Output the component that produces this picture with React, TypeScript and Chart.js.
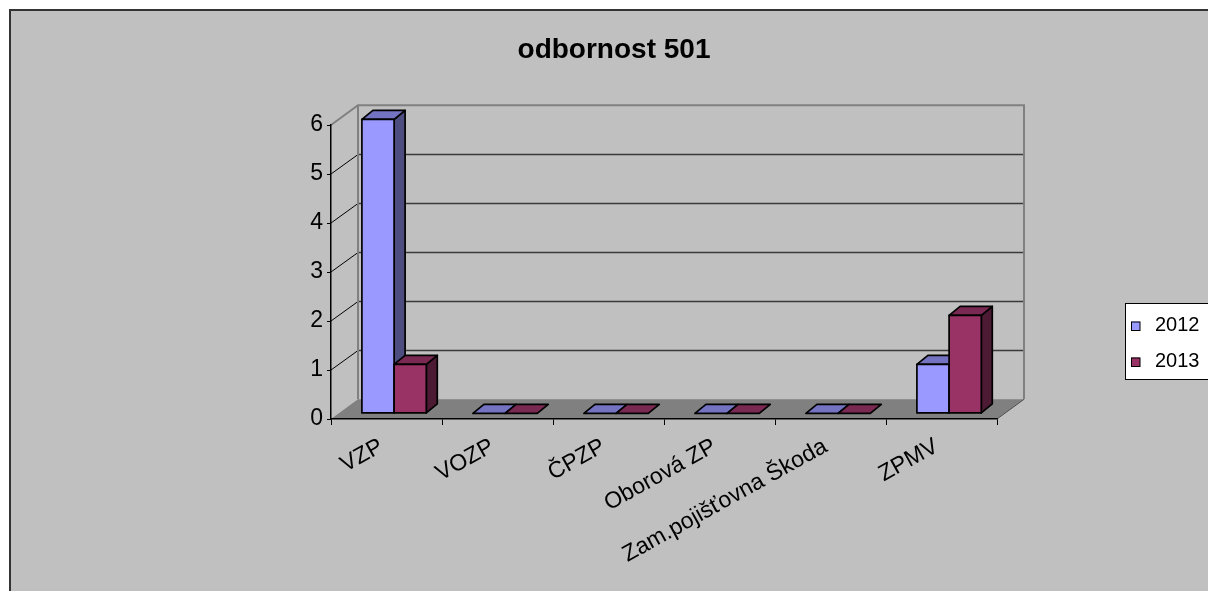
import React, { useEffect, useRef } from "react";
import { Chart, registerables } from "chart.js";

Chart.register(...registerables);

// ---- data ----
const chartTitle = "odbornost 501";
const categories = ["VZP", "VOZP", "ČPZP", "Oborová ZP", "Zam.pojišťovna Škoda", "ZPMV"];
const seriesLabels = ["2012", "2013"];
const values2012 = [6, 0, 0, 0, 0, 1];
const values2013 = [1, 0, 0, 0, 0, 2];
const yMin = 0;
const yMax = 6;
const yStep = 1;

// ---- styles ----
const FONT = "'Liberation Sans', Arial, Helvetica, sans-serif";
const frontColors = ["#9999FF", "#993366"];
const topColors = ["#7373C2", "#7A2952"];
const sideColors = ["#4D4D80", "#4D1A33"];
const WALL_DX = 27;
const WALL_DY = -19.7;
const BAR_DX = 7.6;
const BAR_DY = -5.6;
const DEP_DX = 11;
const DEP_DY = -9;

const excel3d = {
  id: "excel3d",
  beforeDraw(chart: any) {
    const { ctx, chartArea: a, scales } = chart;
    const ys = scales.y;
    const W = chart.width;
    const H = chart.height;
    ctx.save();
    // page + chart box
    ctx.fillStyle = "#FFFFFF";
    ctx.fillRect(0, 0, W, H);
    ctx.fillStyle = "#C0C0C0";
    ctx.fillRect(9, 9, W + 10, H + 10);
    ctx.fillStyle = "#333333";
    ctx.fillRect(9, 9, W, 2);
    ctx.fillRect(9, 9, 2, H);

    const L = a.left, R = a.right, T = a.top, B = a.bottom;

    // floor
    ctx.beginPath();
    ctx.moveTo(L, B);
    ctx.lineTo(R, B);
    ctx.lineTo(R + WALL_DX, B + WALL_DY);
    ctx.lineTo(L + WALL_DX, B + WALL_DY);
    ctx.closePath();
    ctx.fillStyle = "#808080";
    ctx.fill();
    ctx.strokeStyle = "#505050";
    ctx.lineWidth = 1;
    ctx.beginPath();
    ctx.moveTo(R, B);
    ctx.lineTo(R + WALL_DX, B + WALL_DY);
    ctx.stroke();

    // gridlines on side and back walls
    ys.ticks.forEach((t: any) => {
      const v = t.value;
      if (v === yMin || v === yMax) return;
      const yy = ys.getPixelForValue(v);
      const yb = Math.round(yy + WALL_DY) + 0.5;
      ctx.strokeStyle = "#000000";
      ctx.lineWidth = 1;
      ctx.beginPath();
      ctx.moveTo(L, yy);
      ctx.lineTo(L + WALL_DX, yb);
      ctx.stroke();
      ctx.strokeStyle = "#3A3A3A";
      ctx.lineWidth = 1.4;
      ctx.beginPath();
      ctx.moveTo(L + WALL_DX, yb);
      ctx.lineTo(R + WALL_DX, yb);
      ctx.stroke();
    });

    // wall edges
    ctx.strokeStyle = "#808080";
    ctx.lineWidth = 2;
    ctx.beginPath();
    ctx.moveTo(L, T);
    ctx.lineTo(L + WALL_DX, T + WALL_DY);
    ctx.lineTo(R + WALL_DX, T + WALL_DY);
    ctx.lineTo(R + WALL_DX, B + WALL_DY);
    ctx.moveTo(L + WALL_DX, T + WALL_DY);
    ctx.lineTo(L + WALL_DX, B + WALL_DY);
    ctx.stroke();

    // title
    ctx.fillStyle = "#000000";
    ctx.font = `bold 28px ${FONT}`;
    ctx.textAlign = "center";
    ctx.textBaseline = "alphabetic";
    ctx.fillText(chartTitle, 614, 58);

    // legend
    ctx.fillStyle = "#FFFFFF";
    ctx.fillRect(1125, 303, 120, 77);
    ctx.strokeStyle = "#000000";
    ctx.lineWidth = 1;
    ctx.strokeRect(1125.5, 303.5, 120, 76);
    ctx.font = `20px ${FONT}`;
    ctx.textAlign = "left";
    chart.data.datasets.forEach((ds: any, i: number) => {
      const sy = 321.5 + i * 36;
      ctx.fillStyle = ds.backgroundColor;
      ctx.fillRect(1131, sy, 9, 9);
      ctx.strokeStyle = "#000000";
      ctx.strokeRect(1131.5, sy + 0.5, 8.5, 8.5);
      ctx.fillStyle = "#000000";
      ctx.fillText(ds.label, 1155, 331 + i * 36);
    });
    ctx.restore();
  },
  beforeDatasetsDraw(chart: any) {
    const { ctx } = chart;
    const metas = chart.data.datasets.map((_: any, i: number) => chart.getDatasetMeta(i));
    ctx.save();
    ctx.strokeStyle = "#000000";
    ctx.lineWidth = 1.7;
    ctx.lineJoin = "round";
    for (let c = 0; c < categories.length; c++) {
      metas.forEach((meta: any, d: number) => {
        const el = meta.data[c];
        if (!el) return;
        const { x, y, base, width } = el.getProps(["x", "y", "base", "width"], true);
        const x0 = x - width / 2 + BAR_DX;
        const x1 = x + width / 2 + BAR_DX;
        const yt = y + BAR_DY;
        const yb = base + BAR_DY;
        // side
        if (yb - yt > 0.5) {
          ctx.beginPath();
          ctx.moveTo(x1, yt);
          ctx.lineTo(x1 + DEP_DX, yt + DEP_DY);
          ctx.lineTo(x1 + DEP_DX, yb + DEP_DY);
          ctx.lineTo(x1, yb);
          ctx.closePath();
          ctx.fillStyle = sideColors[d];
          ctx.fill();
          ctx.stroke();
        }
        // top
        ctx.beginPath();
        ctx.moveTo(x0, yt);
        ctx.lineTo(x0 + DEP_DX, yt + DEP_DY);
        ctx.lineTo(x1 + DEP_DX, yt + DEP_DY);
        ctx.lineTo(x1, yt);
        ctx.closePath();
        ctx.fillStyle = topColors[d];
        ctx.fill();
        ctx.stroke();
        // front
        if (yb - yt > 0.5) {
          ctx.beginPath();
          ctx.rect(x0, yt, x1 - x0, yb - yt);
          ctx.fillStyle = frontColors[d];
          ctx.fill();
          ctx.stroke();
        }
      });
    }
    ctx.restore();
    return false;
  },
};

export default function App() {
  const ref = useRef<HTMLCanvasElement | null>(null);
  useEffect(() => {
    if (!ref.current) return;
    const chart = new Chart(ref.current, {
      type: "bar",
      data: {
        labels: categories,
        datasets: [
          { label: seriesLabels[0], data: values2012, backgroundColor: frontColors[0], categoryPercentage: 0.58, barPercentage: 1 },
          { label: seriesLabels[1], data: values2013, backgroundColor: frontColors[1], categoryPercentage: 0.58, barPercentage: 1 },
        ],
      },
      options: {
        responsive: false,
        animation: false,
        devicePixelRatio: 1,
        layout: { padding: { left: 0, top: 125, right: 211, bottom: 0 } },
        plugins: {
          legend: { display: false },
          title: { display: false },
          tooltip: { enabled: false },
        },
        scales: {
          x: {
            ticks: {
              color: "#000000",
              font: { family: FONT, size: 23 },
              minRotation: 29,
              maxRotation: 29,
              autoSkip: false,
              padding: 8,
              labelOffset: -5,
            },
            grid: { drawOnChartArea: false, drawTicks: true, tickLength: 6, color: "#000000", offset: true },
            border: { display: true, color: "#000000", width: 1.5 },
            afterFit: (s: any) => { s.height = 172; },
          },
          y: {
            min: yMin,
            max: yMax,
            ticks: { stepSize: yStep, color: "#000000", font: { family: FONT, size: 23 }, padding: 4 },
            grid: { drawOnChartArea: false, drawTicks: true, tickLength: 4, color: "#000000" },
            border: { display: true, color: "#000000", width: 1.5 },
            afterFit: (s: any) => { s.width = 331; },
          },
        },
      },
      plugins: [excel3d],
    });
    return () => chart.destroy();
  }, []);
  return (
    <div style={{ position: "fixed", left: 0, top: 0, width: 1208, height: 591 }}>
      <canvas ref={ref} width={1208} height={591} style={{ display: "block" }} />
    </div>
  );
}
